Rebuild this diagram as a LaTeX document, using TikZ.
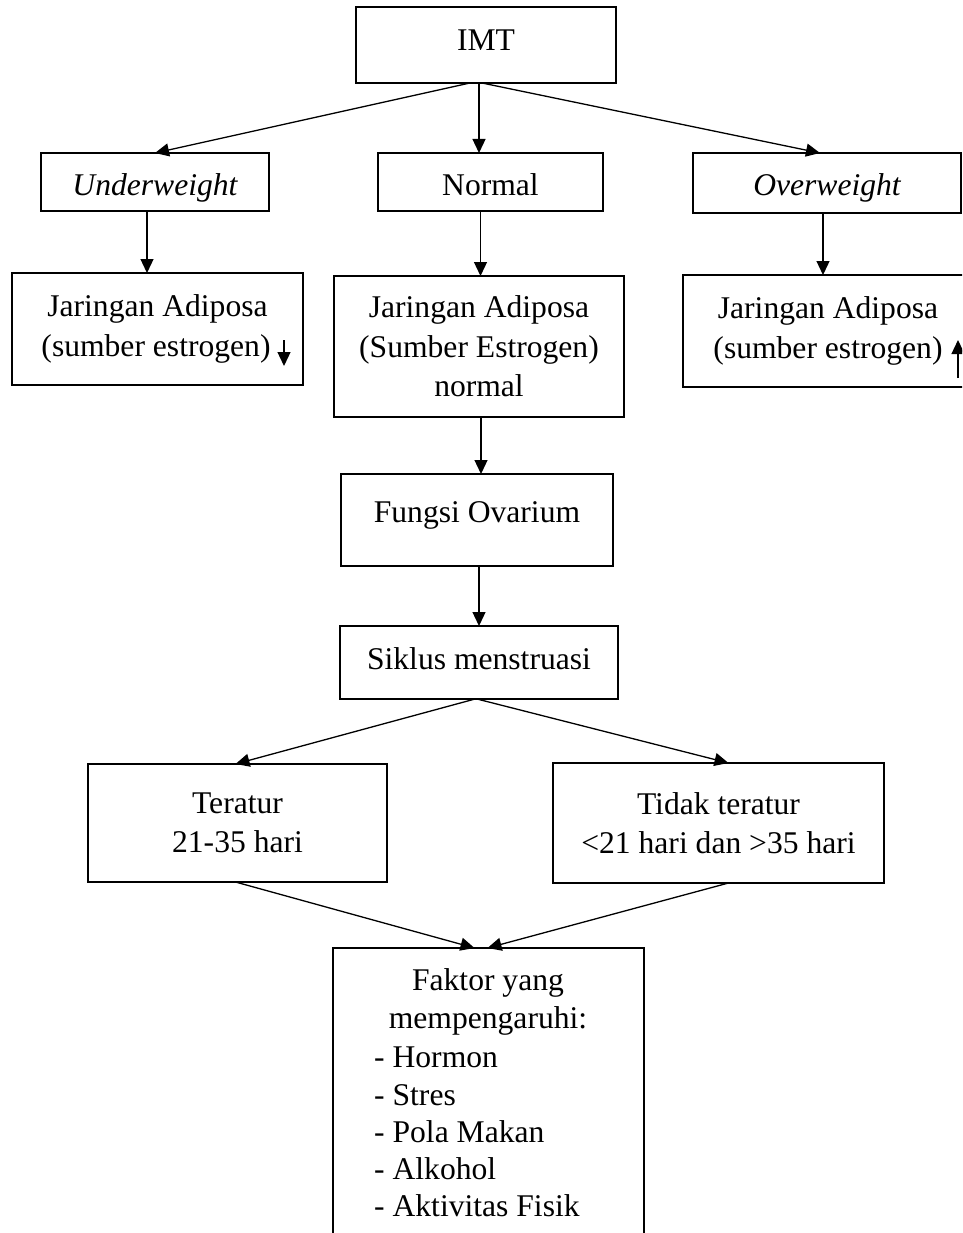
\documentclass[tikz,border=0pt]{standalone}
\usepackage{fontspec}
\setmainfont{Liberation Serif}
\usetikzlibrary{arrows.meta}
\newcommand{\shiftup}[2]{\raisebox{#1}[\height][\depth]{#2}}
\begin{document}
\begin{tikzpicture}[x=1pt,y=-1pt,
  font=\fontsize{31.6}{39.5}\selectfont,
  box/.style={draw,line width=2pt,inner sep=0pt,outer sep=0pt,align=center},
  conn/.style={line width=1.3pt,-{Triangle[length=14pt,width=13pt]}}]
\clip (0,0) rectangle (962,1233);
\fill[white] (0,0) rectangle (962,1233);

\node[box,minimum width=260pt,minimum height=76pt] (imt) at (486,45) {\shiftup{5pt}{IMT}};
\node[box,minimum width=228pt,minimum height=58pt] (under) at (155,182) {\shiftup{-6pt}{\itshape Underweight}};
\node[box,minimum width=225pt,minimum height=58pt] (normal) at (490.5,182) {\shiftup{-3pt}{Normal}};
\node[box,minimum width=268pt,minimum height=60pt] (over) at (827,183) {\shiftup{-5pt}{\itshape Overweight}};

\node[box,minimum width=291pt,minimum height=112pt] (adL) at (157.5,329) {Jaringan Adiposa\\(sumber estrogen)\hspace*{3pt}};
\node[box,minimum width=290pt,minimum height=141pt] (adM) at (479,346.5) {Jaringan Adiposa\\(Sumber Estrogen)\\normal};
\node[box,minimum width=290pt,minimum height=112pt] (adR) at (828,331) {Jaringan Adiposa\\(sumber estrogen)};

\node[box,minimum width=272pt,minimum height=92pt] (fungsi) at (477,520) {\shiftup{5pt}{Fungsi Ovarium}};
\node[box,minimum width=278pt,minimum height=73pt] (siklus) at (479,662.5) {\shiftup{4pt}{Siklus menstruasi}};

\node[box,minimum width=299pt,minimum height=118pt] (teratur) at (237.5,823) {Teratur\\21-35 hari};
\node[box,minimum width=331pt,minimum height=120pt] (tidak) at (718.5,823) {Tidak teratur\\<21 hari dan >35 hari};

\node[box,minimum width=311pt,minimum height=302pt] (faktor) at (488.5,1099) {};
\node[align=center,font=\fontsize{31.6}{37.2}\selectfont,inner sep=0pt] (fakhead) at (488,1002) {Faktor yang\\mempengaruhi:};
\node[align=left,anchor=west,font=\fontsize{31.6}{37.2}\selectfont,inner sep=0pt] (faklist) at (374,1132) {- Hormon\\- Stres\\- Pola Makan\\- Alkohol\\- Aktivitas Fisik};

% connectors
\draw[conn] ([xshift=-16pt]imt.south) -- (under.north);
\draw[conn] ([xshift=-7pt]imt.south) -- ([xshift=-7pt]imt.south |- normal.north);
\draw[conn] ([xshift=-4pt]imt.south) -- ([xshift=-7pt]over.north);
\draw[conn] ([xshift=-8pt]under.south) -- ([xshift=-8pt]under.south |- adL.north);
\draw[conn] ([xshift=-10pt]normal.south) -- ([xshift=-10pt]normal.south |- adM.north);
\draw[conn] ([xshift=-4pt]over.south) -- ([xshift=-4pt]over.south |- adR.north);
\draw[conn] ([xshift=2pt]adM.south) -- ([xshift=2pt]adM.south |- fungsi.north);
\draw[conn] ([xshift=2pt]fungsi.south) -- ([xshift=2pt]fungsi.south |- siklus.north);
\draw[conn] ([xshift=-4pt]siklus.south) -- ([xshift=-2pt]teratur.north);
\draw[conn] ([xshift=-2pt]siklus.south) -- ([xshift=10pt]tidak.north);
\draw[conn] ([xshift=-2pt]teratur.south) -- ([xshift=-14pt]faktor.north);
\draw[conn] ([xshift=10pt]tidak.south) -- ([xshift=-1pt]faktor.north);

% small level arrows
\coordinate (dnA) at (284,340);
\coordinate (dnB) at (284,366);
\draw[conn] (dnA) -- (dnB);
\coordinate (upA) at (958,378);
\coordinate (upB) at (958,340);
\draw[conn] (upA) -- (upB);
\end{tikzpicture}
\end{document}
